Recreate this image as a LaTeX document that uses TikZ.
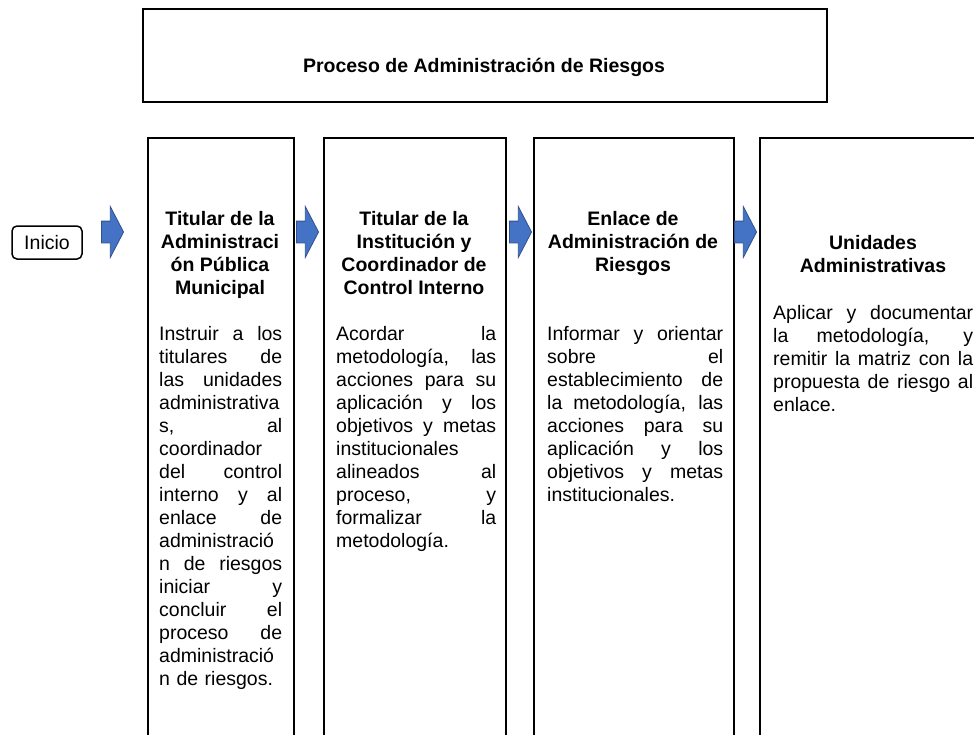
\documentclass[tikz,border=0pt]{standalone}
\usepackage{fontspec}
\setmainfont{Liberation Sans}
\usetikzlibrary{shapes.arrows}
\definecolor{arrblue}{HTML}{4472C4}
\definecolor{arredge}{HTML}{2F528F}
\newlength{\bw}
\newcommand{\jl}[1]{\makebox[\bw][s]{\spaceskip=0pt\relax #1}\\}

\begin{document}
\begin{tikzpicture}[
                x = 1pt, y = -1pt,
                every node/.style = {font = \fontsize{19.5}{23}\selectfont},
                box/.style = {draw, line width = 2pt, inner sep = 0pt, anchor = north west},
                head/.style = {align = center, inner sep = 0pt, anchor = north, font = \fontsize{19.5}{23}\selectfont\bfseries},
                body/.style = {align = left, inner sep = 0pt, anchor = north west, text width = #1,
                               execute at begin node = {\setlength{\bw}{#1}}},
                blk/.style = {single arrow, fill = arrblue, draw = arredge, line width = 0.8pt,
                              minimum height = 22pt, minimum width = 50pt, inner xsep = 0pt, inner ysep = 10.5pt,
                              single arrow head extend = 14.5pt, single arrow tip angle = 125, anchor = tip},
                start/.style = {draw, line width = 1.5pt, rounded corners = 5pt, minimum width = 70pt, minimum height = 33pt, inner sep = 0pt},
            ]
            \clip (0,0) rectangle (974,734);

            \node (title) [box, minimum width = 684pt, minimum height = 93pt] at (141.5, 7.5){};
            \node (titletxt) [head, anchor = center] at (484, 67){Proceso de Administración de Riesgos};

            \node (inicio) [start] at (47, 242.5){Inicio};

            \node (c1) [box, minimum width = 146pt, minimum height = 640pt] at (147, 137){};
            \node (c2) [box, minimum width = 182pt, minimum height = 640pt] at (323, 137){};
            \node (c3) [box, minimum width = 200pt, minimum height = 640pt] at (533, 137){};
            \node (c4) [box, minimum width = 228pt, minimum height = 640pt] at (759, 137){};

            \node (a1) [blk] at (124, 232){};
            \node (a2) [blk] at (319, 232){};
            \node (a3) [blk] at (532, 232){};
            \node (a4) [blk] at (757, 232){};

            % cabeceras
            \node (h1) [head] at (220, 211){Titular de la\\Administraci\\ón Pública\\Municipal};
            \node (h2) [head] at (414, 211){Titular de la\\Institución y\\Coordinador de\\Control Interno};
            \node (h3) [head] at (633, 211){Enlace de\\Administración de\\Riesgos};
            \node (h4) [head] at (873, 235){Unidades\\Administrativas};

            % actividades
            \node (b1) [body = 123pt] at (159, 326){%
                \jl{Instruir a los}
                \jl{titulares de}
                \jl{las unidades}
                administrativa\\
                \jl{s, al}
                coordinador\\
                \jl{del control}
                \jl{interno y al}
                \jl{enlace de}
                administració\\
                \jl{n de riesgos}
                \jl{iniciar y}
                \jl{concluir el}
                \jl{proceso de}
                administració\\
                n de riesgos.};
            \node (b2) [body = 160pt] at (336, 326){%
                \jl{Acordar la}
                \jl{metodología, las}
                \jl{acciones para su}
                \jl{aplicación y los}
                \jl{objetivos y metas}
                institucionales\\
                \jl{alineados al}
                \jl{proceso, y}
                \jl{formalizar la}
                metodología.};
            \node (b3) [body = 176pt] at (547, 326){%
                \jl{Informar y orientar}
                \jl{sobre el}
                \jl{establecimiento de}
                \jl{la metodología, las}
                \jl{acciones para su}
                \jl{aplicación y los}
                \jl{objetivos y metas}
                institucionales.};
            \node (b4) [body = 200pt] at (773, 305){%
                \jl{Aplicar y documentar}
                \jl{la metodología, y}
                \jl{remitir la matriz con la}
                \jl{propuesta de riesgo al}
                enlace.};
        \end{tikzpicture}
\end{document}
